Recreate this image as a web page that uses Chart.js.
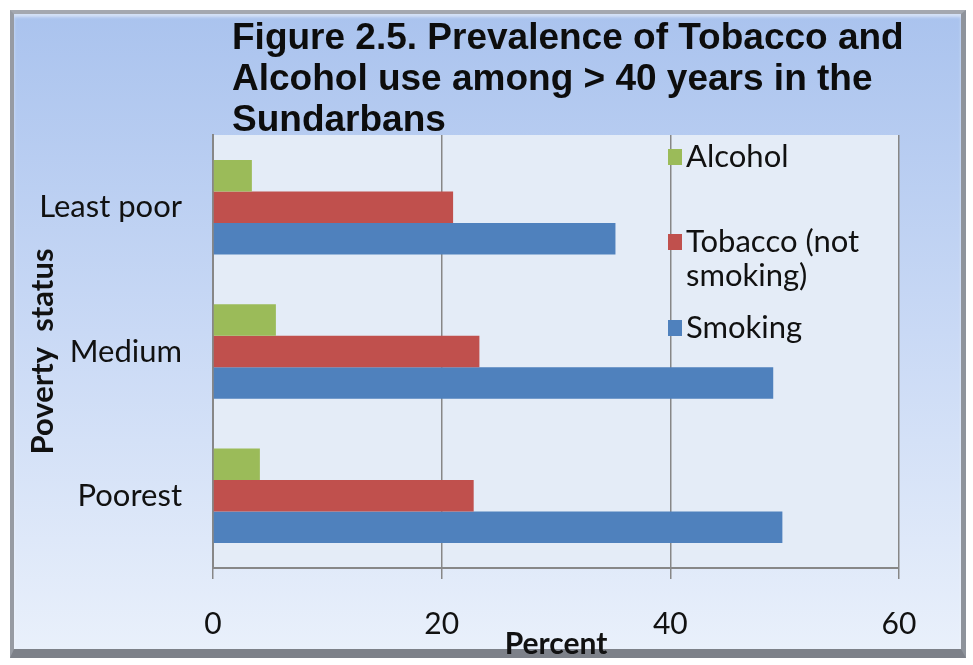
<!DOCTYPE html>
<html>
<head>
<meta charset="utf-8">
<title>Prevalence of Tobacco and Alcohol use</title>
<script src="https://cdn.jsdelivr.net/npm/chart.js@4.4.1/dist/chart.umd.min.js"></script>
<style>
  body { margin: 0; background: #ffffff; }
  #frame {
    position: absolute; left: 10px; top: 10px; width: 956px; height: 648px;
    box-sizing: border-box;
    border-style: solid; border-width: 4px 5px 9px 4px;
    border-color: #a4a8b0 #8e939b #7d8189 #979ba3;
    background: linear-gradient(#aac3ee 0%, #c9d9f5 50%, #e9f0fb 100%);
    box-shadow: inset 0 3px 3px rgba(255,255,255,0.5);
  }
  #chart { position: absolute; left: 0; top: 0; }
</style>
</head>
<body>
<div id="frame"></div>
<canvas id="chart" width="973" height="665"></canvas>
<script>
// poverty groups, top to bottom
const categories = ['Least poor', 'Medium', 'Poorest'];
// percent of people over 40 in each group
const alcohol = [3.4, 5.5, 4.1];
const tobacco = [21.0, 23.3, 22.8];
const smoking = [35.2, 49.0, 49.8];
const xTicks = [0, 20, 40, 60];

const titleLines = [
  'Figure 2.5. Prevalence of Tobacco and',
  'Alcohol use among > 40 years in the',
  'Sundarbans'
];
// legend text, wrapped the way it is shown
const legendLines = [['Alcohol'], ['Tobacco (not', 'smoking)'], ['Smoking']];

const bodyFont = 'Lato';
const gridGrey = '#878787';

// light panel behind the bars
const plotBackground = {
  id: 'plotBackground',
  beforeDraw(chart) {
    const { ctx, chartArea: a } = chart;
    ctx.save();
    ctx.fillStyle = '#e4ecf7';
    ctx.fillRect(a.left, a.top, a.right - a.left, a.bottom - a.top);
    ctx.restore();
  }
};

// three line heading above the plot
const heading = {
  id: 'heading',
  afterDraw(chart) {
    const ctx = chart.ctx;
    ctx.save();
    ctx.font = 'bold 37px "Liberation Sans", Arial, sans-serif';
    ctx.fillStyle = '#0d0d0d';
    ctx.textBaseline = 'alphabetic';
    titleLines.forEach((line, i) => ctx.fillText(line, 232, 49 + i * 41));
    ctx.restore();
  }
};

// legend inside the plot, right hand side
const sideLegend = {
  id: 'sideLegend',
  afterDraw(chart) {
    const ctx = chart.ctx;
    const rows = [157, 242, 328];
    ctx.save();
    ctx.font = '31px ' + bodyFont;
    ctx.textBaseline = 'middle';
    chart.data.datasets.forEach((ds, i) => {
      const y = rows[i];
      ctx.fillStyle = ds.backgroundColor;
      ctx.fillRect(668, y - 8, 14, 16);
      ctx.fillStyle = '#111';
      legendLines[i].forEach((t, j) => ctx.fillText(t, 686, y + j * 34));
    });
    ctx.restore();
  }
};

new Chart(document.getElementById('chart'), {
  type: 'bar',
  data: {
    labels: categories,
    datasets: [
      { label: 'Alcohol', data: alcohol, backgroundColor: '#9bbb59' },
      { label: 'Tobacco (not smoking)', data: tobacco, backgroundColor: '#c0504d' },
      { label: 'Smoking', data: smoking, backgroundColor: '#4f81bd' }
    ]
  },
  options: {
    indexAxis: 'y',
    responsive: false,
    animation: false,
    barPercentage: 1,
    categoryPercentage: 0.655,
    layout: { padding: { top: 135, left: 19, right: 74, bottom: 6 } },
    plugins: {
      legend: { display: false },
      tooltip: { enabled: false }
    },
    scales: {
      x: {
        min: 0,
        max: 60,
        afterBuildTicks: (scale) => { scale.ticks = xTicks.map(v => ({ value: v })); },
        afterFit: (scale) => { scale.height = 91; },
        grid: { color: gridGrey, lineWidth: 1.5, tickLength: 11 },
        border: { color: gridGrey, width: 2 },
        ticks: { color: '#111', padding: 27, font: { family: bodyFont, size: 30 } },
        title: {
          display: true,
          text: 'Percent',
          color: '#111',
          padding: { top: 0, bottom: 0 },
          font: { family: bodyFont, size: 30, weight: 'bold', lineHeight: 1 }
        }
      },
      y: {
        afterFit: (scale) => { scale.width = 194; },
        grid: { display: false, drawTicks: false },
        border: { color: gridGrey, width: 2 },
        ticks: { color: '#111', padding: 31, font: { family: bodyFont, size: 31 } },
        title: {
          display: true,
          text: 'Poverty  status',
          color: '#111',
          padding: { top: 8, bottom: 0 },
          font: { family: bodyFont, size: 31, weight: 'bold', lineHeight: 1 }
        }
      }
    }
  },
  plugins: [plotBackground, heading, sideLegend]
});
</script>
</body>
</html>
